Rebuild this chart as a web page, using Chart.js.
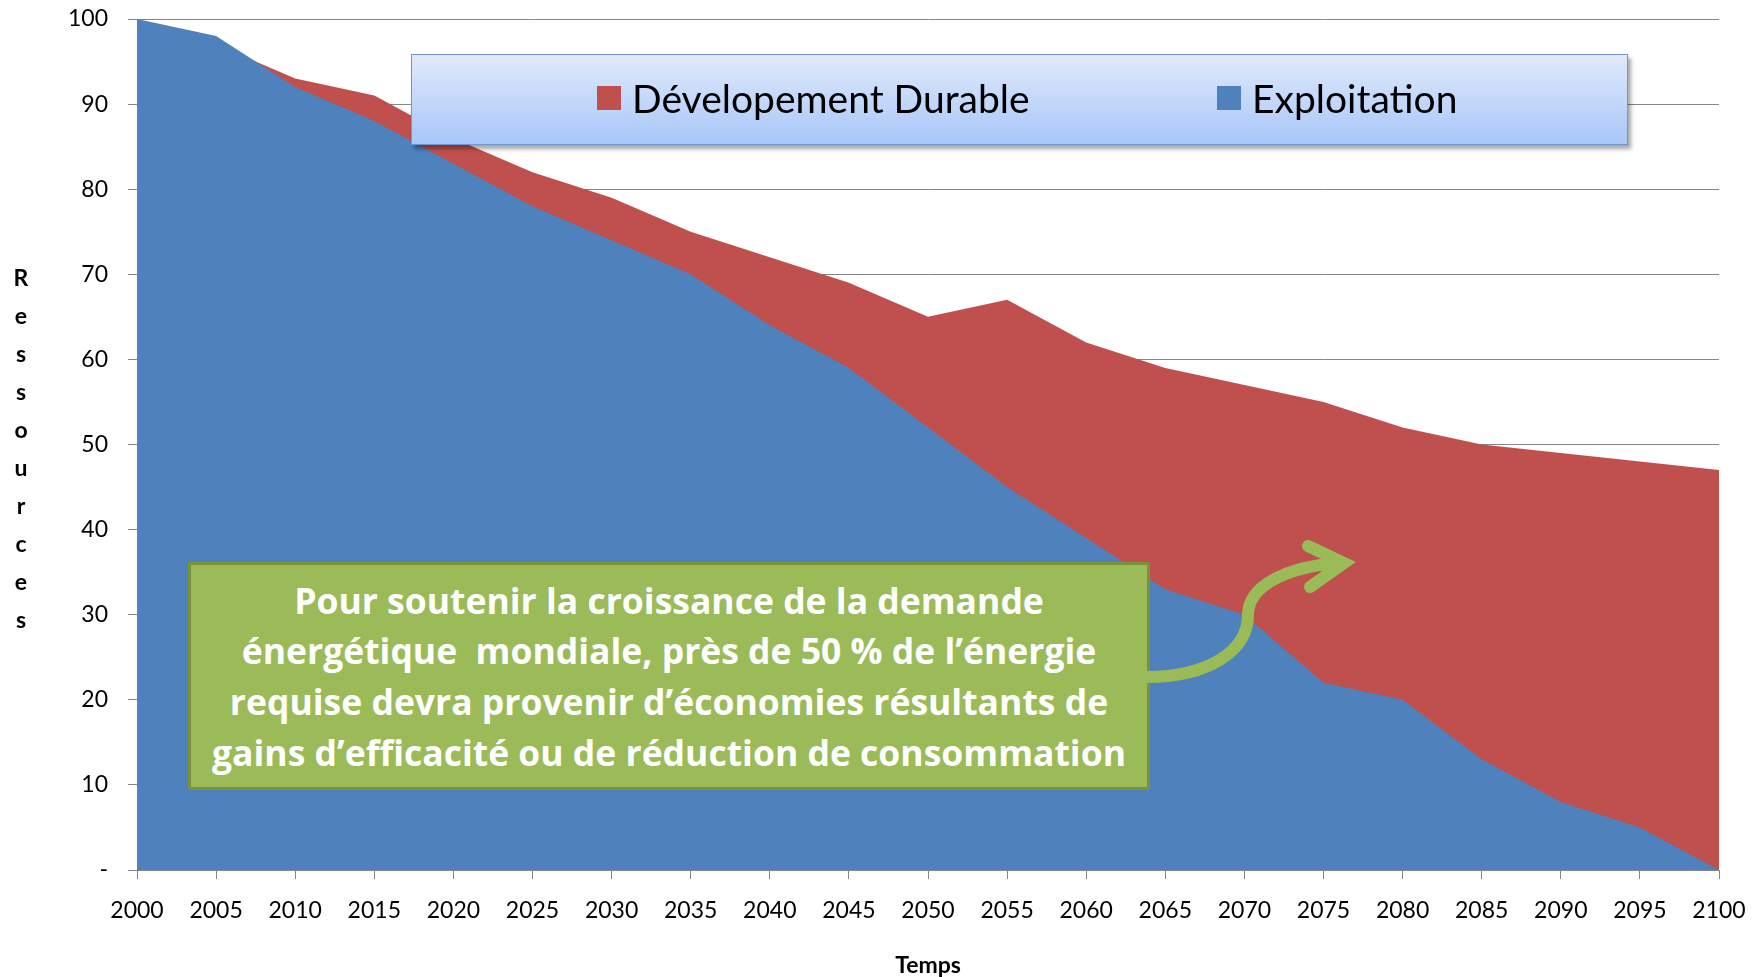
<!DOCTYPE html>
<html lang="fr">
<head>
<meta charset="utf-8">
<title>Ressources - Exploitation / Dévelopement Durable</title>
<script src="https://cdn.jsdelivr.net/npm/chart.js@4.4.0/dist/chart.umd.min.js"></script>
<style>
  body { margin: 0; background: #fff; }
  #wrap { position: relative; width: 1764px; height: 977px; overflow: hidden; font-family: 'Lato', sans-serif; }
  #chart { position: absolute; left: 0; top: 0; }

  /* legend box drawn over the plot, like the original */
  #legend {
    position: absolute; left: 411px; top: 54px; width: 1215px; height: 89px;
    border: 1.5px solid #6f97d1;
    background: linear-gradient(#e0eafb, #a8c6f9);
    box-shadow: 3px 4px 4px rgba(0, 0, 0, 0.35);
  }
  .leg-item { position: absolute; top: 0; height: 85px; display: flex; align-items: center; font-size: 39px; color: #000; }
  .leg-swatch { display: inline-block; width: 24px; height: 24px; margin-right: 11px; }

  /* y axis title, one letter per line */
  #ytitle {
    position: absolute; left: 8px; top: 258px; width: 26px;
    font-weight: bold; font-size: 23px; line-height: 38px; text-align: center;
  }

  /* green annotation */
  #note {
    position: absolute; left: 188px; top: 562px; width: 956px; height: 222px;
    background: #9bbb59; border: 3.5px solid #77933c;
    color: #fff; font-family: 'Open Sans', sans-serif; font-weight: bold; font-size: 35.5px; line-height: 50.6px;
    text-align: center; display: flex; align-items: center; justify-content: center; white-space: nowrap;
  }
  #arrow { position: absolute; left: 0; top: 0; }
</style>
</head>
<body>
<div id="wrap">
  <canvas id="chart" width="1764" height="977"></canvas>
  <div id="legend">
    <div class="leg-item" style="left:185px"><span class="leg-swatch" style="background:#c0504d"></span>Dévelopement Durable</div>
    <div class="leg-item" style="left:805px"><span class="leg-swatch" style="background:#4f81bd"></span>Exploitation</div>
  </div>
  <div id="ytitle">R<br>e<br>s<br>s<br>o<br>u<br>r<br>c<br>e<br>s</div>
  <div id="note">Pour soutenir la croissance de la demande<br>énergétique&nbsp; mondiale, près de 50 % de l’énergie<br>requise devra provenir d’économies résultants de<br>gains d’efficacité ou de réduction de consommation</div>
  <svg id="arrow" width="1764" height="977">
    <path d="M1146 677 C1210 677 1248 650 1248 615 C1248 585 1288 567 1338 563"
          fill="none" stroke="#9bbb59" stroke-width="12" stroke-linecap="round"/>
    <path d="M1308 546 L1344 563 L1310 587"
          fill="none" stroke="#9bbb59" stroke-width="12" stroke-linecap="round" stroke-linejoin="miter"/>
  </svg>
</div>

<script>
/* Values */
var years = [2000, 2005, 2010, 2015, 2020, 2025, 2030, 2035, 2040, 2045, 2050,
             2055, 2060, 2065, 2070, 2075, 2080, 2085, 2090, 2095, 2100];
var exploitation = [100, 98, 92, 88, 83, 78, 74, 70, 64, 59, 52,
                    45, 39, 33, 30, 22, 20, 13, 8, 5, 0];
var durable = [100, 97, 93, 91, 86, 82, 79, 75, 72, 69, 65,
               67, 62, 59, 57, 55, 52, 50, 49, 48, 47];
var yTicks = [0, 10, 20, 30, 40, 50, 60, 70, 80, 90, 100];

var COLOURS = {
  exploitation: '#4f81bd',
  durable: '#c0504d',
  axis: '#868686'
};

function toPoints(values) {
  return years.map(function(y, i) { return { x: y, y: values[i] }; });
}

var FONT = "'Lato', sans-serif";

new Chart(document.getElementById('chart'), {
  type: 'line',
  data: {
    datasets: [
      /* first dataset is drawn on top */
      {
        label: 'Exploitation',
        data: toPoints(exploitation),
        backgroundColor: COLOURS.exploitation,
        borderWidth: 0,
        pointRadius: 0,
        fill: 'origin'
      },
      {
        label: 'Dévelopement Durable',
        data: toPoints(durable),
        backgroundColor: COLOURS.durable,
        borderWidth: 0,
        pointRadius: 0,
        fill: 'origin'
      }
    ]
  },
  options: {
    responsive: false,
    animation: false,
    devicePixelRatio: 1,
    layout: { padding: { top: 19, right: 45, left: 0, bottom: 0 } },
    plugins: {
      legend: { display: false },
      tooltip: { enabled: false }
    },
    scales: {
      x: {
        type: 'linear',
        min: years[0],
        max: years[years.length - 1],
        afterBuildTicks: function(scale) {
          scale.ticks = years.map(function(v) { return { value: v }; });
        },
        ticks: {
          autoSkip: false,
          maxRotation: 0,
          padding: 18,
          color: '#000',
          font: { family: FONT, size: 23 },
          callback: function(v) { return String(v); }
        },
        grid: { drawOnChartArea: false, drawTicks: true, tickLength: 9, color: COLOURS.axis },
        border: { color: COLOURS.axis },
        title: {
          display: true,
          text: 'Temps',
          color: '#000',
          font: { family: FONT, size: 23, weight: 'bold' },
          padding: { top: 0, bottom: -2 }
        },
        afterFit: function(scale) { scale.height = 107; }
      },
      y: {
        min: 0,
        max: 100,
        afterBuildTicks: function(scale) {
          scale.ticks = yTicks.map(function(v) { return { value: v }; });
        },
        ticks: {
          padding: 20,
          color: '#000',
          font: { family: FONT, size: 23 },
          callback: function(v) { return v === 0 ? '-' : String(v); }
        },
        grid: { color: COLOURS.axis, tickLength: 9 },
        border: { color: COLOURS.axis },
        afterFit: function(scale) {
          scale.width = 137;
          /* tick padding is horizontal here, don't let it push the plot down */
          scale.paddingTop = 0;
          scale.paddingBottom = 0;
        }
      }
    }
  }
});
</script>
</body>
</html>
